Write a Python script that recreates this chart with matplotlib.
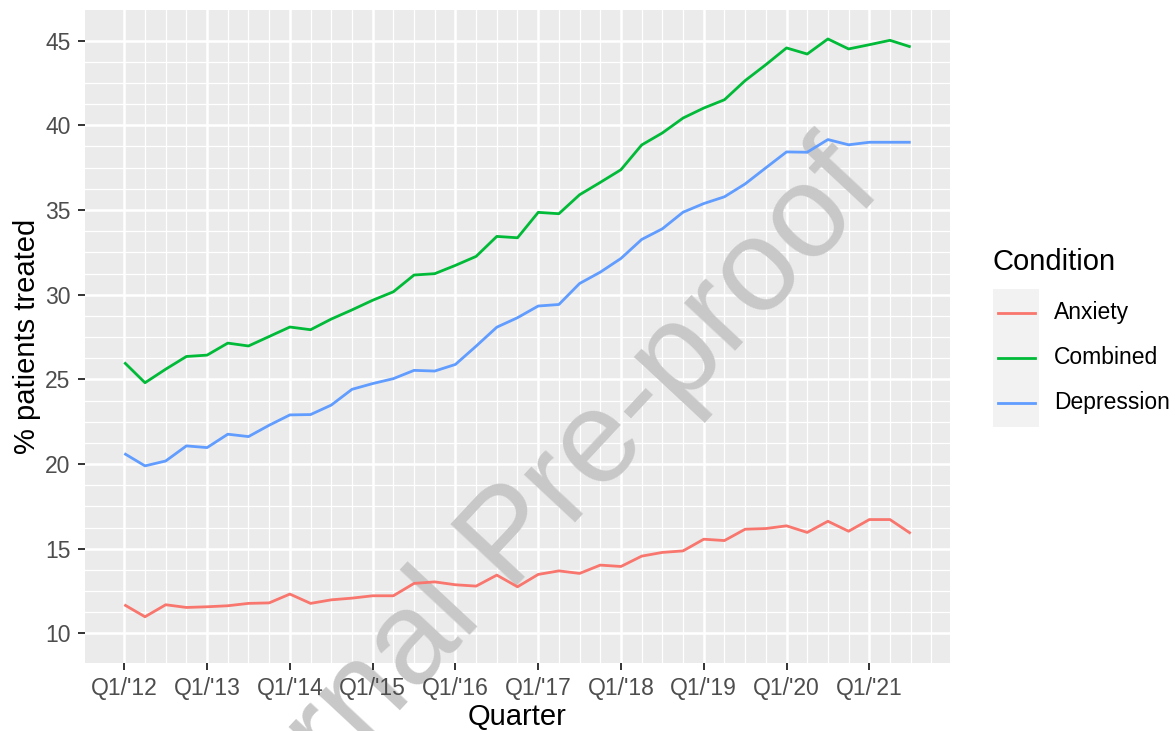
import matplotlib
matplotlib.use("Agg")
import matplotlib.pyplot as plt
from matplotlib.patches import Rectangle
from matplotlib.lines import Line2D

plt.rcParams['font.family'] = ['Liberation Sans', 'DejaVu Sans']

# ---- data ----
quarter_index = list(range(39))  # Q1/'12 ... Q3/'21
tick_positions = [0, 4, 8, 12, 16, 20, 24, 28, 32, 36]
tick_labels = ["Q1/'12", "Q1/'13", "Q1/'14", "Q1/'15", "Q1/'16",
               "Q1/'17", "Q1/'18", "Q1/'19", "Q1/'20", "Q1/'21"]
conditions = ["Anxiety", "Combined", "Depression"]
colors = ["#F8766D", "#00BA38", "#619CFF"]

anxiety = [11.69, 10.98, 11.69, 11.53, 11.57, 11.63, 11.77, 11.80, 12.32, 11.77,
           11.98, 12.08, 12.22, 12.22, 12.95, 13.04, 12.87, 12.79, 13.44, 12.75,
           13.48, 13.69, 13.54, 14.03, 13.95, 14.56, 14.78, 14.87, 15.56, 15.48,
           16.15, 16.19, 16.35, 15.96, 16.62, 16.03, 16.72, 16.72, 15.90]
combined = [26.00, 24.80, 25.60, 26.35, 26.43, 27.14, 26.97, 27.53, 28.09, 27.93,
            28.56, 29.10, 29.67, 30.17, 31.16, 31.24, 31.73, 32.26, 33.44, 33.36,
            34.86, 34.78, 35.90, 36.63, 37.38, 38.84, 39.55, 40.43, 41.02, 41.51,
            42.64, 43.58, 44.57, 44.21, 45.10, 44.51, 44.76, 45.02, 44.63]
depression = [20.62, 19.89, 20.18, 21.07, 20.97, 21.76, 21.62, 22.29, 22.90, 22.92,
              23.48, 24.41, 24.75, 25.04, 25.53, 25.49, 25.88, 26.96, 28.08, 28.64,
              29.33, 29.42, 30.66, 31.33, 32.14, 33.26, 33.89, 34.87, 35.38, 35.78,
              36.54, 37.49, 38.43, 38.41, 39.16, 38.85, 39.00, 39.00, 39.00]
series = [anxiety, combined, depression]

y_major = [10, 15, 20, 25, 30, 35, 40, 45]
y_minor = [10 + 1.25 * k for k in range(29) if k % 4 != 0]
x_minor = [q for q in range(40) if q % 4 != 0]

W, H = 1175, 731
fig = plt.figure(figsize=(W / 100, H / 100), dpi=100)
fig.patch.set_facecolor("white")
ax = fig.add_axes([85 / W, 1 - 663 / H, (950 - 85) / W, (663 - 10) / H])
ax.set_facecolor("#EBEBEB")
for s in ax.spines.values():
    s.set_visible(False)

ax.set_xlim(-1.9, 39.9)
ax.set_ylim(8.25, 46.81)

# grid (manual, under watermark and lines)
for yv in y_minor:
    ax.axhline(yv, color="white", lw=0.9, zorder=0.6)
for xv in x_minor:
    ax.axvline(xv, color="white", lw=0.9, zorder=0.6)
for yv in y_major:
    ax.axhline(yv, color="white", lw=1.8, zorder=0.7)
for xv in tick_positions:
    ax.axvline(xv, color="white", lw=1.8, zorder=0.7)

for vals, c in zip(series, colors):
    ax.plot(quarter_index, vals, color=c, lw=2.0, zorder=2, solid_capstyle="butt")

ax.set_axisbelow(False)
ax.set_xticks(tick_positions)
ax.set_xticklabels(tick_labels)
ax.set_yticks(y_major)
ax.set_yticklabels([str(v) for v in y_major])
ax.tick_params(axis="both", colors="#333333", length=5, width=1.4,
               labelsize=16.5, labelcolor="#4D4D4D")
ax.tick_params(axis="x", pad=5)
ax.tick_params(axis="y", pad=5.5)
ax.set_xlabel("Quarter", fontsize=21, color="black", labelpad=2)
ax.set_ylabel("% patients treated", fontsize=21, color="black", labelpad=3)

# watermark
ax.text(189.4 / W, 1 - 936.6 / H, "Journal Pre-proof", transform=fig.transFigure,
        fontsize=95, color="#C8C8C8", rotation=47, rotation_mode="anchor",
        ha="left", va="baseline", zorder=1, clip_on=False)

# legend (manual, ggplot style)
fig.text(993 / W, 1 - 262 / H, "Condition", fontsize=21, ha="left", va="center")
fig.add_artist(Rectangle((993 / W, 1 - 427 / H), 46 / W, 138 / H,
                         transform=fig.transFigure, facecolor="#F2F2F2",
                         edgecolor="none", zorder=1))
rows = [313, 358, 403]
for lab, c, yy in zip(conditions, colors, rows):
    fig.add_artist(Line2D([998 / W, 1035 / W], [1 - yy / H, 1 - yy / H],
                          transform=fig.transFigure, color=c, lw=2.0, zorder=2))
    fig.text(1054 / W, 1 - yy / H, lab, fontsize=16.5, ha="left", va="center")

fig.savefig("out.png", dpi=100)
